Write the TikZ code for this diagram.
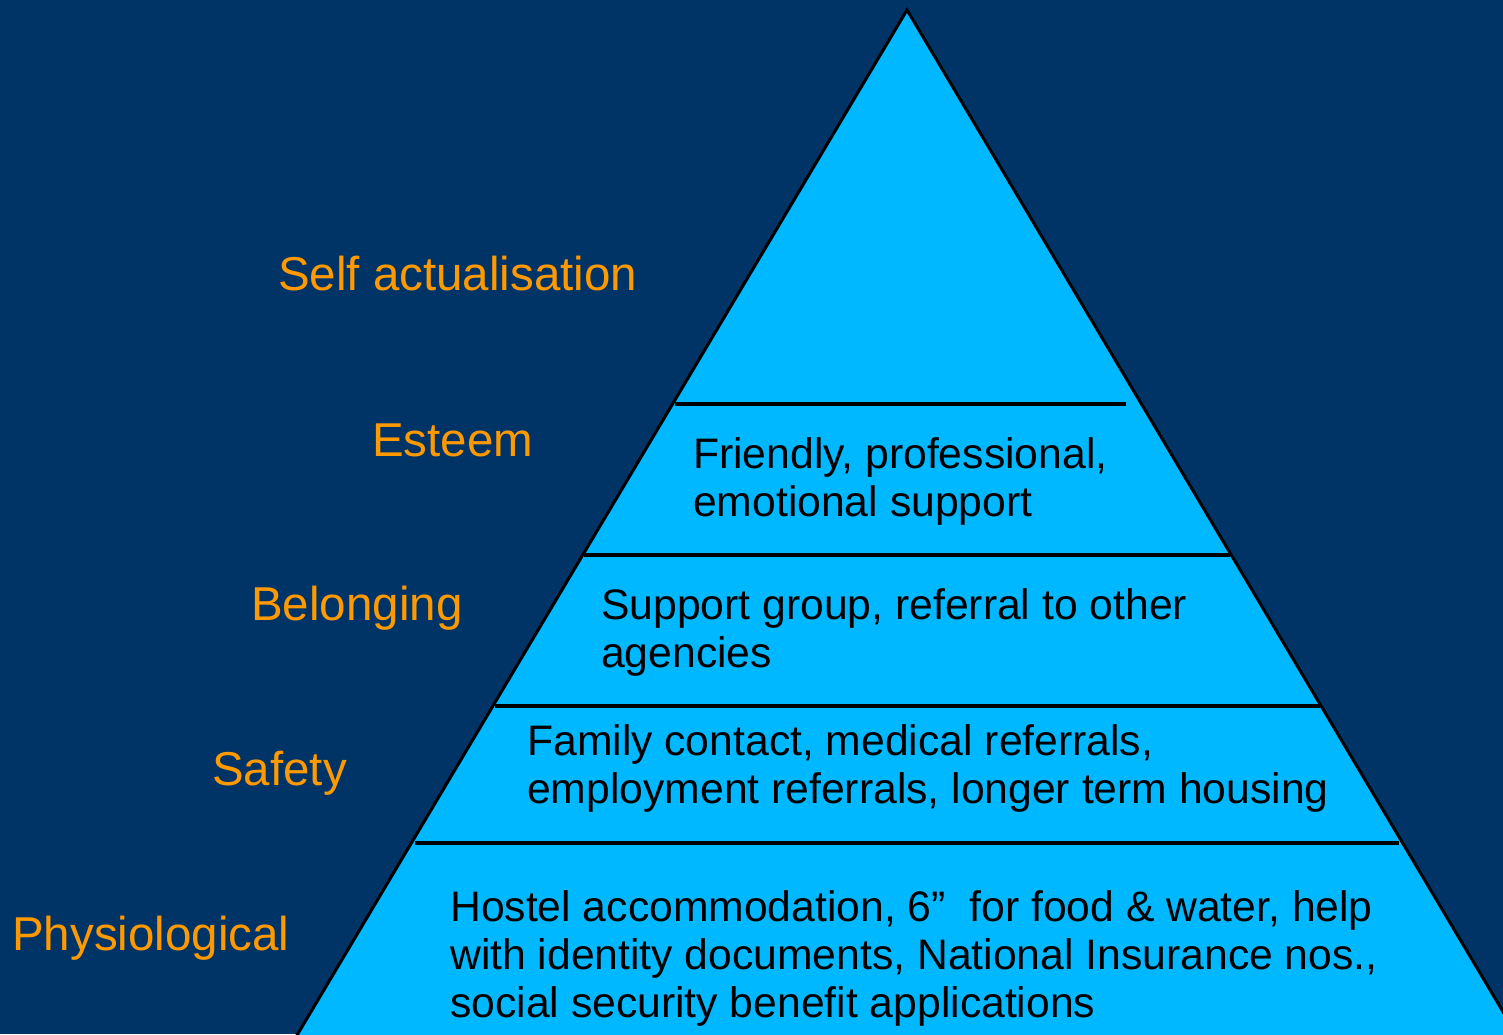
\documentclass[tikz,border=0pt]{standalone}
\usepackage{fontspec}
\setmainfont{Liberation Sans}
\definecolor{navy}{RGB}{0,51,102}
\definecolor{sky}{RGB}{0,184,255}
\definecolor{gold}{RGB}{255,153,0}
\tikzset{
  level/.style={font=\fontsize{47.5}{54}\selectfont, text=gold, anchor=base west, inner sep=0pt},
  desc/.style={font=\fontsize{42.67}{48}\selectfont, text=black, anchor=base west, inner sep=0pt, align=left},
  divider/.style={line width=3.5pt, black},
  edge/.style={line width=3pt, black, line join=miter}
}
\begin{document}
\begin{tikzpicture}[x=1pt,y=-1pt]
\fill[navy] (0,0) rectangle (1503,1034);
\useasboundingbox (0,0) rectangle (1503,1034);
\begin{scope}
\clip (0,0) rectangle (1503,1034);
\coordinate (apex) at (907,10);
\coordinate (bl) at (252.5,1110);
\coordinate (br) at (1561.5,1110);
\fill[sky] (apex) -- (bl) -- (br) -- cycle;
\draw[edge] (bl) -- (apex) -- (br);
\end{scope}
\draw[divider] (675,404) -- (1126,404);
\draw[divider] (584,555) -- (1230,555);
\draw[divider] (495,706) -- (1320,706);
\draw[divider] (415,843) -- (1399,843);

\node[level] (sa) at (278,290) {Self actualisation};
\node[level] (es) at (372,456) {Esteem};
\node[level] (be) at (251,620) {Belonging};
\node[level] (sf) at (212,785) {Safety};
\node[level] (ph) at (12,950) {Physiological};

% base anchor of a multi-line node is the baseline of its last line
\node[desc] (d1) at (693,516) {Friendly, professional,\\emotional support};
\node[desc] (d2) at (601,667) {Support group, referral to other\\agencies};
\node[desc] (d3) at (527,803) {Family contact, medical referrals,\\employment referrals, longer term housing};
\node[desc] (d4) at (450,1017) {Hostel accommodation, 6”\ \ for food \& water, help\\with identity documents, National Insurance nos.,\\social security benefit applications};
\end{tikzpicture}
\end{document}
